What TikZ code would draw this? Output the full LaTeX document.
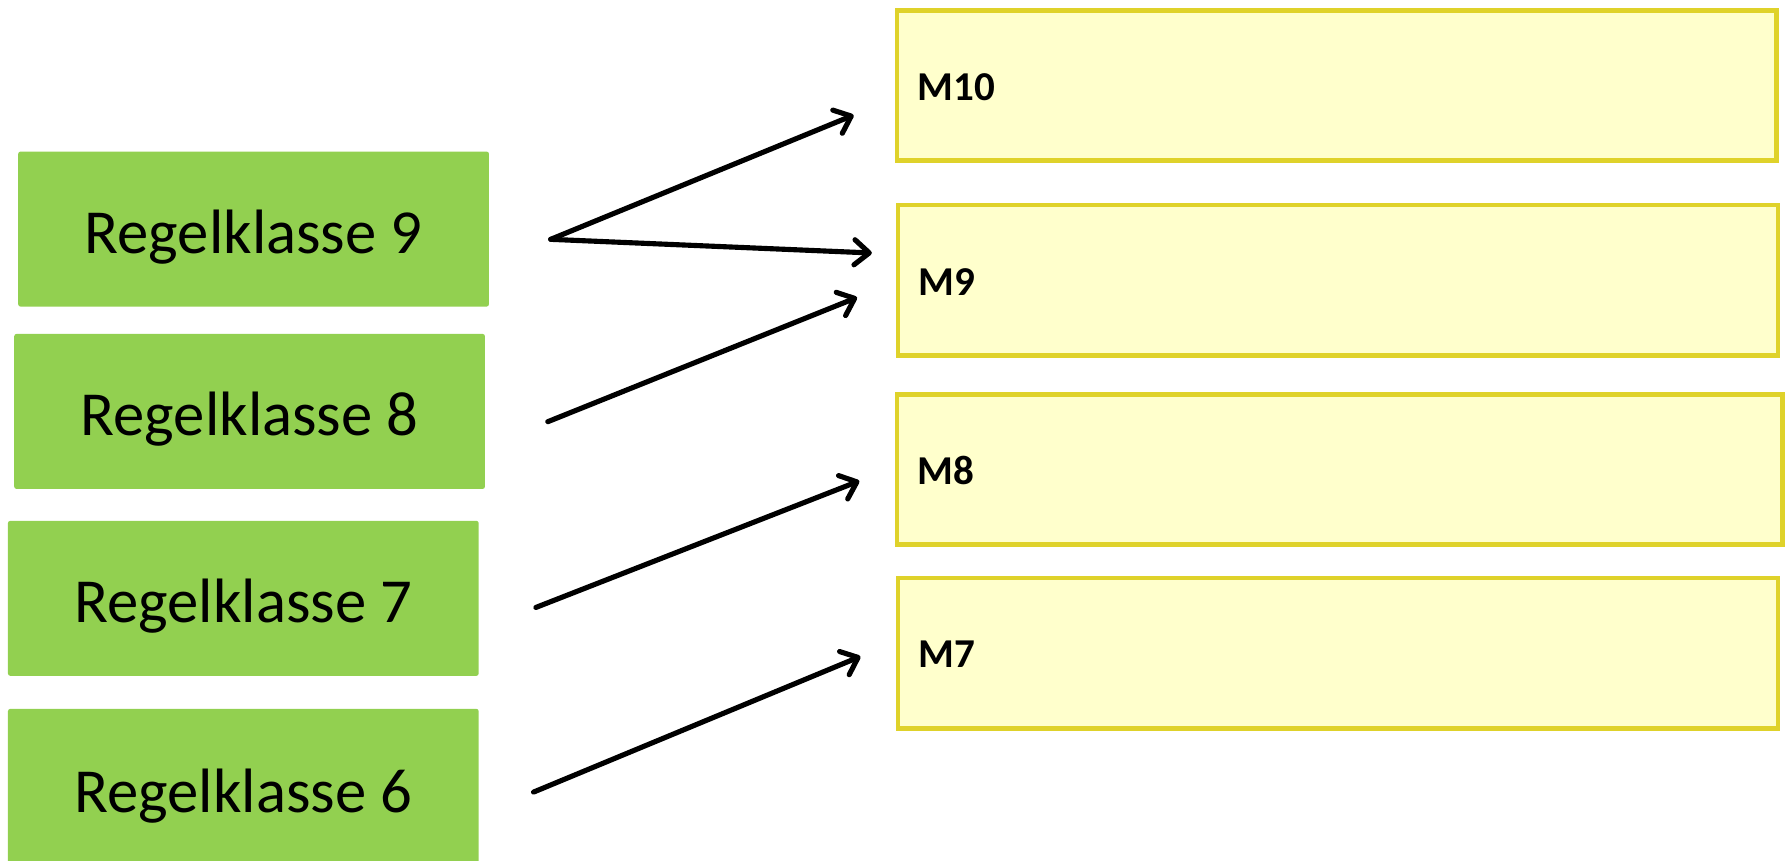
\documentclass[tikz,border=0pt]{standalone}
\usepackage{fontspec}
\setmainfont{Carlito}
\usetikzlibrary{arrows.meta}
\definecolor{rkgreen}{HTML}{92D050}
\definecolor{mfill}{HTML}{FFFFCC}
\definecolor{mborder}{HTML}{DFD22A}
\tikzset{
  rkbox/.style={fill=rkgreen, rounded corners=2pt, minimum width=413pt, minimum height=136pt,
    inner sep=0pt, text height=42pt, text depth=0pt, font=\fontsize{55}{66}\selectfont, text=black},
  mbox/.style={fill=mfill, draw=mborder, line width=4pt, minimum width=772pt, minimum height=132pt,
    inner xsep=18pt, inner ysep=0pt, text width=736pt, text height=26pt, text depth=0pt, align=left,
    font=\fontsize{36}{42}\selectfont\bfseries},
  conn/.style={draw=black, line width=4.5pt, line cap=round,
    -{Straight Barb[length=13pt,width=22pt,line width=4.5pt,round]}}
}
\begin{document}
\begin{tikzpicture}[x=1pt,y=-1pt]
\useasboundingbox (0,0) rectangle (1568,755);
\node[rkbox] (rk9) at (222.5,201) {Regelklasse 9};
\node[rkbox] (rk8) at (219,361) {Regelklasse 8};
\node[rkbox] (rk7) at (213.5,525) {Regelklasse 7};
\node[rkbox, minimum height=140pt] (rk6) at (213.5,692) {Regelklasse 6};
\node[mbox] (m10) at (1173,75) {M10};
\node[mbox] (m9) at (1174,246) {M9};
\node[mbox, minimum width=777pt, text width=741pt] (m8) at (1175.5,412) {M8};
\node[mbox] (m7) at (1174,573) {M7};
\draw[conn] ([xshift=54pt,yshift=-9pt]rk9.east) -- ([xshift=-36pt,yshift=-26pt]m10.west);
\draw[conn] ([xshift=54pt,yshift=-9pt]rk9.east) -- ([xshift=-21pt,yshift=24pt]m9.west);
\draw[conn] ([xshift=55pt,yshift=-9pt]rk8.east) -- ([xshift=-34pt,yshift=-15pt]m9.west);
\draw[conn] ([xshift=50pt,yshift=-8pt]rk7.east) -- ([xshift=-31pt,yshift=-10pt]m8.west);
\draw[conn] ([xshift=48pt,yshift=-3pt]rk6.east) -- ([xshift=-31pt,yshift=-3pt]m7.west);
\end{tikzpicture}
\end{document}
